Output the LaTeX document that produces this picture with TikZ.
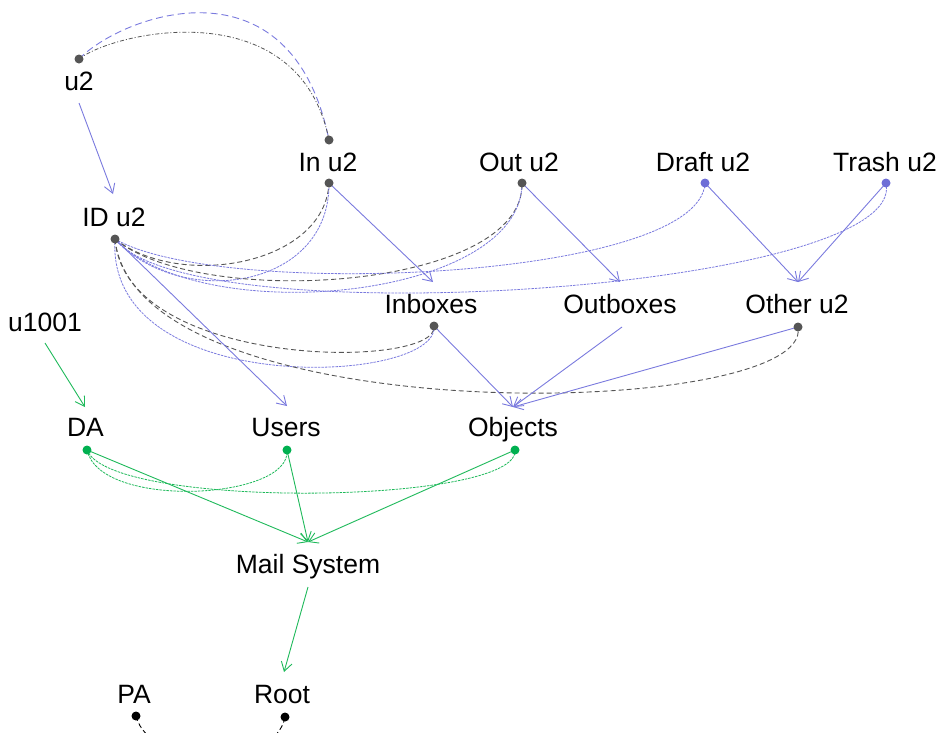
\documentclass[tikz,border=0pt]{standalone}
\usepackage{fontspec}
\setmainfont{Liberation Sans}
\usetikzlibrary{arrows.meta}

\definecolor{edgeblue}{RGB}{122,122,222}
\definecolor{dotblue}{RGB}{110,110,215}
\definecolor{edgegreen}{RGB}{30,185,90}
\definecolor{dotgreen}{RGB}{0,176,80}
\definecolor{darkgrey}{RGB}{85,85,85}

\tikzset{
  lbl/.style={anchor=base, inner sep=0pt, font=\fontsize{26.5}{30}\selectfont},
  arrowline/.style={line width=0.9pt, -{Straight Barb[length=9pt,width=11pt]}},
  bluearrow/.style={arrowline, draw=edgeblue},
  greenarrow/.style={arrowline, draw=edgegreen},
  greylink/.style={draw=darkgrey, line width=0.9pt, dash pattern=on 5pt off 3pt},
  greydashdot/.style={draw=darkgrey, line width=0.8pt, dash pattern=on 4pt off 2pt on 1pt off 2pt},
  bluelongdash/.style={draw=edgeblue, line width=0.9pt, dash pattern=on 7pt off 4pt},
  bluefine/.style={draw=edgeblue, line width=0.8pt, dash pattern=on 2.5pt off 1pt},
  greenfine/.style={draw=edgegreen, line width=0.8pt, dash pattern=on 2.5pt off 1pt},
  blacklink/.style={draw=black, line width=0.9pt, dash pattern=on 5pt off 3pt},
  gdot/.style={fill=darkgrey},
  bdot/.style={fill=dotblue},
  ndot/.style={fill=dotgreen},
  kdot/.style={fill=black},
}

\begin{document}
\begin{tikzpicture}[x=1pt,y=-1pt]
\useasboundingbox (0,0) rectangle (941,732);
\clip (0,0) rectangle (941,732);

% labels
\node[lbl] (u2)       at (79,90)   {u2};
\node[lbl] (inu2)     at (328,171) {In u2};
\node[lbl] (outu2)    at (519,171) {Out u2};
\node[lbl] (draftu2)  at (703,171) {Draft u2};
\node[lbl] (trashu2)  at (885,171) {Trash u2};
\node[lbl] (idu2)     at (114,226) {ID u2};
\node[lbl] (u1001)    at (45,331)  {u1001};
\node[lbl] (inboxes)  at (431,313) {Inboxes};
\node[lbl] (outboxes) at (620,313) {Outboxes};
\node[lbl] (otheru2)  at (797,313) {Other u2};
\node[lbl] (da)       at (85.5,436) {DA};
\node[lbl] (users)    at (286,436) {Users};
\node[lbl] (objects)  at (513,436) {Objects};
\node[lbl] (mail)     at (308,573) {Mail System};
\node[lbl] (pa)       at (134,703) {PA};
\node[lbl] (root)     at (282,703) {Root};

% attachment points: -d = dot / start, -t = arrow end, -u = upper dot
\coordinate (u2-u)       at (79,59);
\coordinate (u2-d)       at (79,103);
\coordinate (inu2-u)     at (329,140);
\coordinate (inu2-d)     at (329,183);
\coordinate (outu2-d)    at (522,183);
\coordinate (draftu2-d)  at (705,183);
\coordinate (trashu2-d)  at (886,183);
\coordinate (idu2-d)     at (115,239);
\coordinate (idu2-t)     at (113,194);
\coordinate (u1001-d)    at (45,343);
\coordinate (inboxes-d)  at (434,326);
\coordinate (inboxes-t)  at (433,282);
\coordinate (outboxes-d) at (622,327);
\coordinate (outboxes-t) at (620,282);
\coordinate (otheru2-d)  at (798,327);
\coordinate (otheru2-t)  at (798,282);
\coordinate (da-d)       at (87,450);
\coordinate (da-t)       at (85,407);
\coordinate (users-d)    at (287,450);
\coordinate (users-t)    at (287,406);
\coordinate (objects-d)  at (515,450);
\coordinate (objects-t)  at (513,407);
\coordinate (mail-d)     at (308,587);
\coordinate (mail-t)     at (308,542);
\coordinate (pa-d)       at (136,716);
\coordinate (root-d)     at (285,717);
\coordinate (root-t)     at (284,672);

% curved links
\draw[bluelongdash] (u2-u) .. controls (122,15) and (291,-47) .. (inu2-u);
\draw[greydashdot]  (u2-u) .. controls (115,31) and (299,-9) .. (inu2-u);

\draw[greylink] (idu2-d) .. controls (180,290) and (325,265) .. (inu2-d);
\draw[bluefine] (idu2-d) .. controls (180,310) and (330,290) .. (inu2-d);
\draw[greylink] (idu2-d) .. controls (200,310) and (525,290) .. (outu2-d);
\draw[bluefine] (idu2-d) .. controls (200,330) and (522,300) .. (outu2-d);
\draw[bluefine] (idu2-d) .. controls (220,300) and (700,280) .. (draftu2-d);
\draw[bluefine] (idu2-d) .. controls (190,338) and (910,290) .. (trashu2-d);
\draw[greylink] (idu2-d) .. controls (125,370) and (440,370) .. (inboxes-d);
\draw[bluefine] (idu2-d) .. controls (105,400) and (440,385) .. (inboxes-d);
\draw[greylink] (idu2-d) .. controls (135,435) and (815,420) .. (otheru2-d);

\draw[greenfine] (da-d) .. controls (100,510) and (292,500) .. (users-d);
\draw[greenfine] (da-d) .. controls (110,510) and (520,505) .. (objects-d);

\draw[blacklink] (pa-d) .. controls (150,770) and (275,770) .. (root-d);

% arrows
\draw[bluearrow] (u2-d) -- (idu2-t);
\draw[bluearrow] (inu2-d) -- (inboxes-t);
\draw[bluearrow] (outu2-d) -- (outboxes-t);
\draw[bluearrow] (draftu2-d) -- (otheru2-t);
\draw[bluearrow] (trashu2-d) -- (otheru2-t);
\draw[bluearrow] (idu2-d) -- (users-t);
\draw[bluearrow] (inboxes-d) -- (objects-t);
\draw[bluearrow] (outboxes-d) -- (objects-t);
\draw[bluearrow] (otheru2-d) -- (objects-t);

\draw[greenarrow] (u1001-d) -- (da-t);
\draw[greenarrow] (da-d) -- (mail-t);
\draw[greenarrow] (users-d) -- (mail-t);
\draw[greenarrow] (objects-d) -- (mail-t);
\draw[greenarrow] (mail-d) -- (root-t);

% dots
\foreach \p in {u2-u,inu2-u,inu2-d,outu2-d,idu2-d,inboxes-d,otheru2-d}
  \fill[gdot] (\p) circle (4.5);
\foreach \p in {draftu2-d,trashu2-d}
  \fill[bdot] (\p) circle (4.5);
\foreach \p in {da-d,users-d,objects-d}
  \fill[ndot] (\p) circle (4.5);
\foreach \p in {pa-d,root-d}
  \fill[kdot] (\p) circle (4.5);
\end{tikzpicture}
\end{document}
